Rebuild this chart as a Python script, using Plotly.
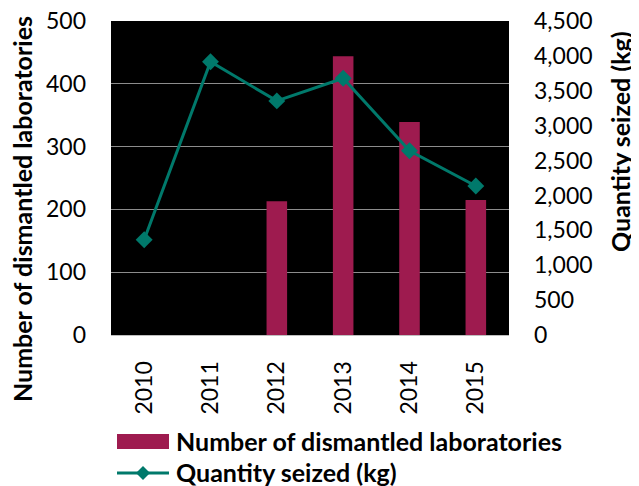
import plotly.graph_objects as go

years = ["2010", "2011", "2012", "2013", "2014", "2015"]
labs_dismantled = [None, None, 213, 444, 339, 215]
qty_seized_kg = [1365, 3915, 3355, 3680, 2640, 2135]
bar_name = "Number of dismantled laboratories"
line_name = "Quantity seized (kg)"

BAR = "#9E1B4F"
LINE = "#00796B"
FONT = "Lato, Open Sans, sans-serif"

OFF = 8  # default page body margin
W, H = 639 - OFF, 486 - OFF
L, T = 111 - OFF, 21 - OFF
PW, PH = 398, 314
R, B = W - L - PW, H - T - PH


def px(x):
    return (x - OFF - L) / PW


def py(y):
    return (T + PH - (y - OFF)) / PH


fig = go.Figure()
fig.add_trace(go.Bar(
    x=years, y=labs_dismantled, name=bar_name,
    marker=dict(color=BAR, line=dict(width=0)), width=0.31, yaxis="y",
    showlegend=False,
))
fig.add_trace(go.Scatter(
    x=years, y=qty_seized_kg, name=line_name, yaxis="y2",
    mode="lines+markers", line=dict(color=LINE, width=3),
    marker=dict(symbol="diamond", size=13, color=LINE),
    showlegend=False,
))

tick_font = dict(size=23, family=FONT, color="black")
title_font = dict(size=25, family=FONT, color="black", weight="bold")

fig.update_layout(
    width=W, height=H,
    margin=dict(l=L, r=R, t=T, b=B, autoexpand=False),
    paper_bgcolor="white", plot_bgcolor="black",
    font=dict(family=FONT, size=23, color="black"),
    showlegend=False,
    xaxis=dict(type="category", tickangle=-90, showgrid=False, ticks="",
               showline=True, linecolor="#BFBFBF", linewidth=1,
               tickfont=tick_font, automargin=False, ticklabelstandoff=16,
               ticklabeloverflow="allow"),
    yaxis=dict(range=[0, 500], dtick=100, showgrid=True, gridcolor="#8C8C8C",
               gridwidth=1, zeroline=False, ticks="", automargin=False,
               tickfont=tick_font, ticklabelstandoff=24,
               ticklabeloverflow="allow"),
    yaxis2=dict(range=[0, 4500], dtick=500, overlaying="y", side="right",
                showgrid=False, zeroline=False, tickformat=",", ticks="",
                automargin=False, tickfont=tick_font, ticklabelstandoff=24,
                ticklabeloverflow="allow"),
    bargap=0.69,
    annotations=[
        dict(text=bar_name, x=px(22), y=py(209), xref="paper", yref="paper",
             textangle=-90, showarrow=False, xanchor="center", yanchor="middle",
             font=title_font),
        dict(text=line_name, x=px(620), y=py(142), xref="paper", yref="paper",
             textangle=-90, showarrow=False, xanchor="center", yanchor="middle",
             font=title_font),
        dict(text=bar_name, x=px(174), y=py(441), xref="paper", yref="paper",
             showarrow=False, xanchor="left", yanchor="middle", font=title_font),
        dict(text=line_name, x=px(174), y=py(472), xref="paper", yref="paper",
             showarrow=False, xanchor="left", yanchor="middle", font=title_font),
    ],
    shapes=[
        dict(type="rect", xref="paper", yref="paper", x0=px(117), x1=px(169),
             y0=py(449), y1=py(434), fillcolor=BAR, line=dict(width=0)),
        dict(type="line", xref="paper", yref="paper", x0=px(117), x1=px(169),
             y0=py(473), y1=py(473), line=dict(color=LINE, width=3)),
        dict(type="path", xref="paper", yref="paper",
             path=f"M {px(143)} {py(466)} L {px(150)} {py(473)} L {px(143)} {py(480)} L {px(136)} {py(473)} Z",
             fillcolor=LINE, line=dict(width=0)),
    ],
)

fig.write_html("out.html")
